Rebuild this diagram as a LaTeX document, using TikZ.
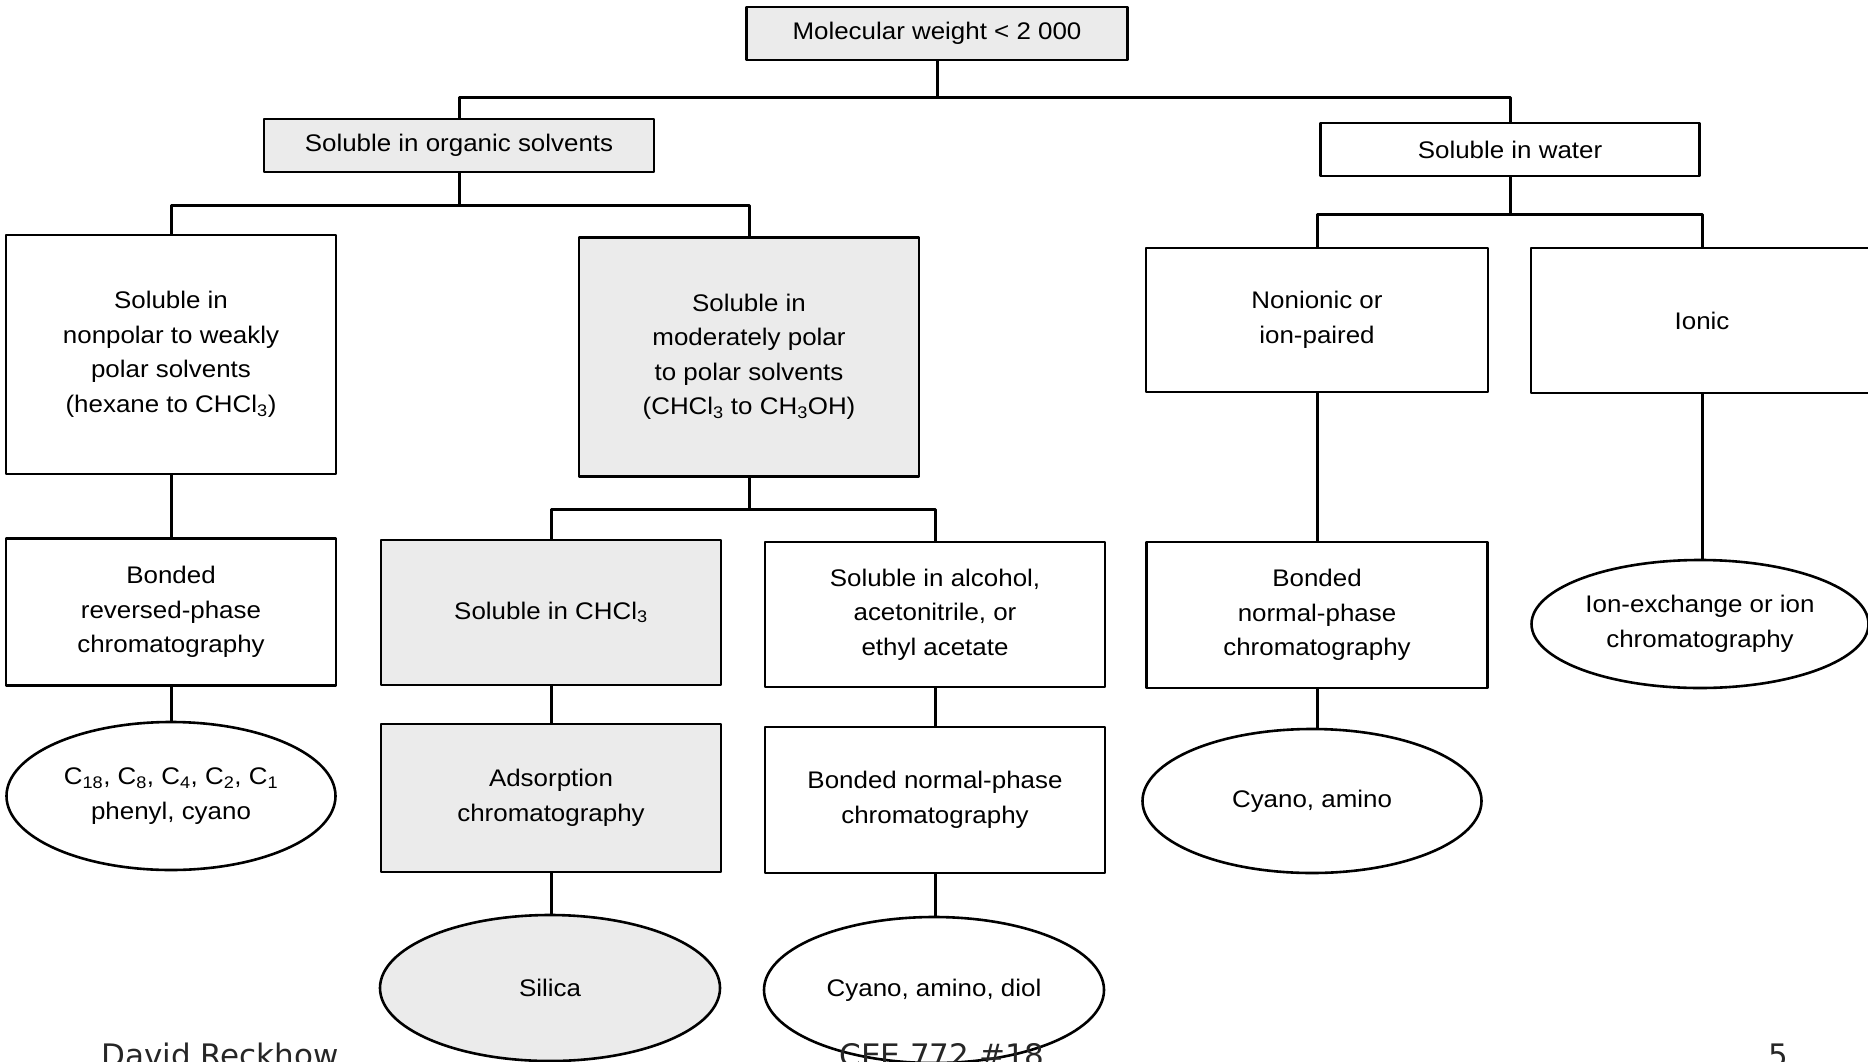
\documentclass[tikz,border=0pt]{standalone}
\usepackage{fontspec}
\setmainfont{Liberation Sans}[FakeStretch=1.08]
\newfontfamily\footfont{DejaVu Sans}
\usetikzlibrary{shapes.geometric}
\newcommand{\chemsub}[1]{\textsubscript{#1}}
\tikzset{
	box/.style={draw, line width=2.6pt, align=center, inner sep=0pt, font=\fontsize{24}{34.5}\selectfont},
	stip/.style={fill=black!8},
	oval/.style={box, ellipse},
	link/.style={line width=3pt},
	foot/.style={inner sep=0pt, text=black!85, font=\footfont\fontsize{31}{36}\selectfont},
}
\begin{document}
\begin{tikzpicture}[x=1pt,y=-1pt,line join=round]
	\useasboundingbox (0,0) rectangle (1868,1062);
	
	% first levels
	\node[box,stip,minimum width=381pt,minimum height=53pt] (mw) at (937,33.5) {Molecular weight < 2 000};
	\node[box,stip,minimum width=390pt,minimum height=53pt] (org) at (459,145.5) {Soluble in organic solvents};
	\node[box,minimum width=379pt,minimum height=53pt] (wat) at (1510,149.5) {Soluble in water};
	
	\node[box,minimum width=330pt,minimum height=239pt] (np) at (171,354.5) {Soluble in\\nonpolar to weakly\\polar solvents\\(hexane to CHCl\chemsub{3})};
	\node[box,stip,minimum width=340pt,minimum height=239pt] (mp) at (749,357) {Soluble in\\moderately polar\\to polar solvents\\(CHCl\chemsub{3} to CH\chemsub{3}OH)};
	\node[box,minimum width=342pt,minimum height=144pt] (ni) at (1317,320) {Nonionic or\\ion-paired};
	\node[box,minimum width=342pt,minimum height=145pt] (ion) at (1702,320.5) {Ionic};
	
	% methods
	\node[box,minimum width=330pt,minimum height=147pt] (rp) at (171,612) {Bonded\\reversed-phase\\chromatography};
	\node[box,stip,minimum width=340pt,minimum height=145pt] (ch) at (551,612.5) {Soluble in CHCl\chemsub{3}};
	\node[box,minimum width=340pt,minimum height=145pt] (al) at (935,614.5) {Soluble in alcohol,\\acetonitrile, or\\ethyl acetate};
	\node[box,minimum width=341pt,minimum height=146pt] (npr) at (1317,615) {Bonded\\normal-phase\\chromatography};
	\node[oval,minimum width=337pt,minimum height=128pt] (ie) at (1700,624) {Ion-exchange or ion\\chromatography};
	
	\node[oval,minimum width=329pt,minimum height=148pt] (c18) at (171,796) {C\chemsub{18}, C\chemsub{8}, C\chemsub{4}, C\chemsub{2}, C\chemsub{1}\\phenyl, cyano};
	\node[box,stip,minimum width=340pt,minimum height=148pt] (ad) at (551,798) {Adsorption\\chromatography};
	\node[box,minimum width=340pt,minimum height=146pt] (bn) at (935,800) {Bonded normal-phase\\chromatography};
	\node[oval,minimum width=339pt,minimum height=144pt] (ca) at (1312,801) {Cyano, amino};
	
	% stationary phases
	\node[oval,stip,minimum width=340pt,minimum height=146pt] (si) at (550,988) {Silica};
	\node[oval,minimum width=340pt,minimum height=146pt] (cad) at (934,990) {Cyano, amino, diol};
	
	% branches
	\draw[link] (mw.south) -- ++(0,36) coordinate (j1);
	\draw[link] (org.north) |- (j1) -| (wat.north);
	\draw[link] (org.south) -- ++(0,32) coordinate (j2);
	\draw[link] (np.north) |- (j2) -| (mp.north);
	\draw[link] (wat.south) -- ++(0,37) coordinate (j3);
	\draw[link] (ni.north) |- (j3) -| (ion.north);
	\draw[link] (mp.south) -- ++(0,32) coordinate (j4);
	\draw[link] (ch.north) |- (j4) -| (al.north);
	
	\foreach \a/\b in {np/rp, rp/c18, ch/ad, ad/si, al/bn, bn/cad, ni/npr, npr/ca, ion/ie}
		\draw[link] (\a.south) -- (\a.south |- \b.north);
	
	% footer
	\node[foot,anchor=base west] (author) at (101,1066) {David Reckhow};
	\node[foot,anchor=base] (course) at (942,1066) {CEE 772 \#18};
	\node[foot,anchor=base] (page) at (1778,1066) {5};
\end{tikzpicture}
\end{document}
